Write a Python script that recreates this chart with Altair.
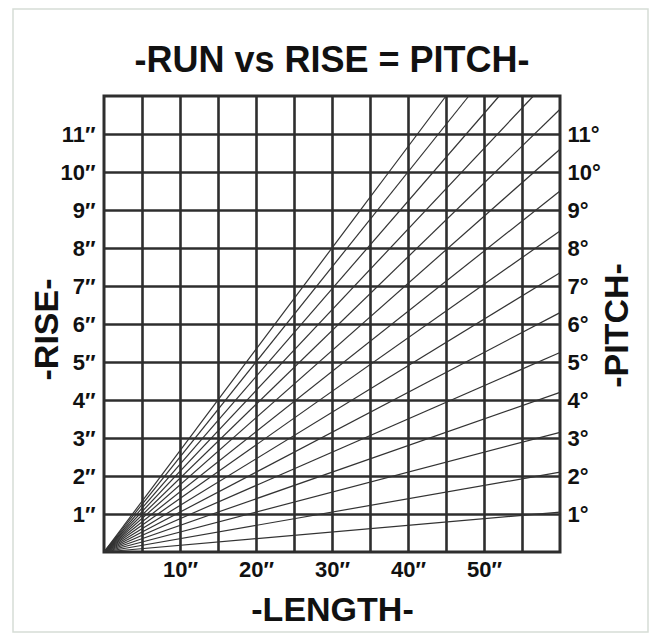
import json
import altair as alt
import pandas as pd

# ---- values ----
pitch_deg = list(range(1, 16))
end_length = [60, 60, 60, 60, 60, 60, 60, 60, 60, 60, 60, 56.5, 52.0, 48.0, 45.0]
end_rise = [1.05, 2.1, 3.15, 4.2, 5.25, 6.3, 7.35, 8.45, 9.5, 10.6, 11.65, 12, 12, 12, 12]

rise_ticks = list(range(1, 12))
pitch_ticks = list(range(1, 12))
length_grid = [5, 10, 15, 20, 25, 30, 35, 40, 45, 50, 55]
length_labels = [10, 20, 30, 40, 50]
chart_title = "-RUN vs RISE = PITCH-"

rows = []
for d, ex, ey in zip(pitch_deg, end_length, end_rise):
    rows.append({"pitch": d, "length": 0, "rise": 0})
    rows.append({"pitch": d, "length": ex, "rise": ey})
df = pd.DataFrame(rows)

FONT = "Liberation Sans"
INK = "#111111"
GRID = "#2e2e2e"

x_scale = alt.Scale(domain=[0, 60], nice=False, zero=True)
y_scale = alt.Scale(domain=[0, 12], nice=False, zero=True)

x_axis = alt.Axis(
    values=length_grid,
    labelExpr="indexof(%s, datum.value) >= 0 ? datum.value + '″' : ''" % json.dumps(length_labels),
    grid=True, gridColor=GRID, gridWidth=2.6, gridOpacity=1,
    ticks=False, tickSize=0, domain=False,
    labelFont=FONT, labelFontSize=22, labelFontWeight="bold", labelColor=INK,
    labelPadding=7, labelAngle=0,
    title="-LENGTH-", titleFont=FONT, titleFontSize=34, titleFontWeight="bold",
    titleColor=INK, titleX=228, titleY=58, titleAlign="center", titleBaseline="middle",
)

y_left = alt.Axis(
    values=rise_ticks,
    labelExpr="datum.value + '″'",
    grid=True, gridColor=GRID, gridWidth=2.6, gridOpacity=1,
    ticks=False, tickSize=0, domain=False,
    labelFont=FONT, labelFontSize=22, labelFontWeight="bold", labelColor=INK,
    labelPadding=9, labelBaseline="middle",
    title="-RISE-", titleFont=FONT, titleFontSize=34, titleFontWeight="bold",
    titleColor=INK, titleAngle=270, titleX=-57, titleY=233,
    titleAlign="center", titleBaseline="middle",
)

y_right = alt.Axis(
    orient="right",
    values=pitch_ticks,
    labelExpr="datum.value + '°'",
    grid=False, ticks=False, tickSize=0, domain=False,
    labelFont=FONT, labelFontSize=22, labelFontWeight="bold", labelColor=INK,
    labelPadding=7, labelBaseline="middle",
    title="-PITCH-", titleFont=FONT, titleFontSize=34, titleFontWeight="bold",
    titleColor=INK, titleAngle=270, titleX=57, titleY=229,
    titleAlign="center", titleBaseline="middle",
)

lines = alt.Chart(df).mark_line(color="#333333", strokeWidth=1.2).encode(
    x=alt.X("length:Q", scale=x_scale, axis=x_axis),
    y=alt.Y("rise:Q", scale=y_scale, axis=y_left),
    detail="pitch:N",
)

right_axis_layer = alt.Chart(df).mark_line(opacity=0).encode(
    x=alt.X("length:Q", scale=x_scale),
    y=alt.Y("rise:Q", scale=y_scale, axis=y_right),
    detail="pitch:N",
)

frame = alt.Chart(alt.Data(values=[{"f": 1}])).mark_rect(
    filled=False, stroke="#d6ddd6", strokeWidth=1.5
).encode(
    x=alt.value(-91), x2=alt.value(544), y=alt.value(-87), y2=alt.value(536)
)

title_text = alt.Chart(alt.Data(values=[{"t": chart_title}])).mark_text(
    font=FONT, fontSize=36, fontWeight="bold", color=INK,
    align="center", baseline="alphabetic",
).encode(
    text="t:N", x=alt.value(228), y=alt.value(-24)
)

chart = (
    alt.layer(frame, lines, right_axis_layer, title_text)
    .resolve_axis(y="independent")
    .properties(
        width=456,
        height=456,
        padding={"left": 96, "top": 88, "right": 90, "bottom": 82},
        autosize=alt.AutoSizeParams(type="none"),
        background="white",
    )
    .configure_view(stroke=GRID, strokeWidth=3)
)

chart.save("out.html", embed_options={"renderer": "svg", "actions": False})
